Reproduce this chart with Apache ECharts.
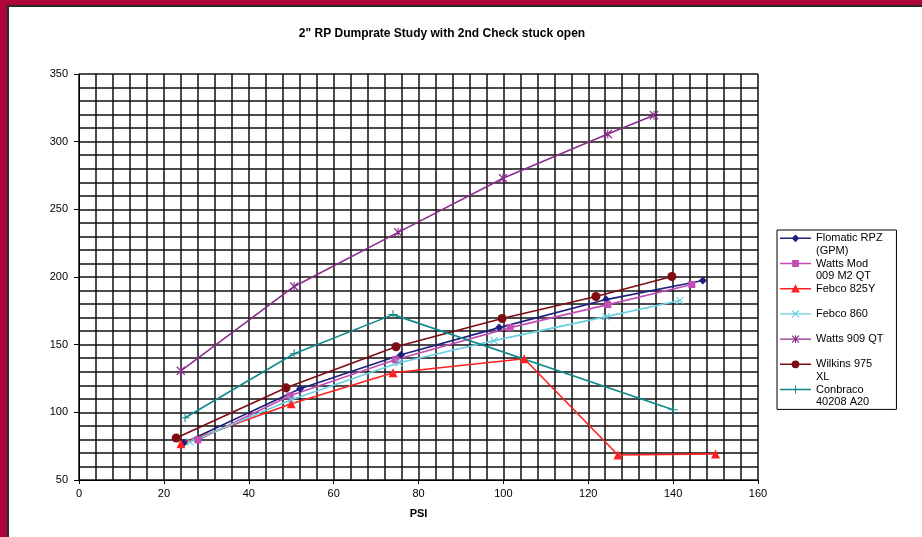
<!DOCTYPE html>
<html>
<head>
<meta charset="utf-8">
<script src="https://cdn.jsdelivr.net/npm/echarts@6/dist/echarts.min.js"></script>
<style>
  html, body { margin: 0; padding: 0; background: #fff; }
  #wrap { position: relative; width: 922px; height: 537px; overflow: hidden; }
  #chart { position: absolute; left: 0; top: 0; width: 922px; height: 537px; }
  #frame { position: absolute; left: 0; top: 0; width: 922px; height: 537px; box-sizing: border-box;
           border-left: 7px solid #b0073a; border-top: 5px solid #b0073a; pointer-events: none; }
  #frame div { position: absolute; left: 0; top: 0; right: 0; bottom: 0;
               border-left: 2px solid #2a2a2a; border-top: 2px solid #2a2a2a; }
</style>
</head>
<body>
<div id="wrap">
  <div id="chart"></div>
  <div id="frame"><div></div></div>
</div>
<script>
// series names and [psi, gpm] readings
const seriesNames = ['Flomatic RPZ (GPM)', 'Watts Mod 009 M2 QT', 'Febco 825Y', 'Febco 860',
                     'Watts 909 QT', 'Wilkins 975 XL', 'Conbraco 40208 A20'];
const flomatic = [[24.7, 77.4], [52.1, 117.4], [75.9, 142.6], [99, 162.6], [124.2, 183.3], [147, 197.4]];
const wattsMod = [[28, 79.6], [49.7, 112.2], [74.5, 138.9], [101.6, 162.6], [124.6, 179.6], [144.4, 194.4]];
const febco825 = [[24, 76.7], [50, 106.3], [74, 129.3], [104.9, 139.6], [127, 68.5], [150, 69.3]];
const febco860 = [[26.2, 78], [50, 109.3], [75.4, 136.7], [97.8, 153], [124.2, 170.7], [141.6, 182.6]];
const watts909 = [[24, 130.7], [50.7, 193], [75.2, 233], [99.9, 273], [124.6, 305.6], [135.5, 319.6]];
const wilkins = [[22.9, 81], [48.8, 118.1], [74.7, 148.5], [99.7, 169.3], [121.8, 185.6], [139.7, 200.4]];
const conbraco = [[25, 96], [50.7, 143.3], [74, 172.2], [140, 101.9]];

// legend wraps like the original (every entry takes two text lines)
const legendText = {
  'Flomatic RPZ (GPM)': 'Flomatic RPZ\n(GPM)',
  'Watts Mod 009 M2 QT': 'Watts Mod\n009 M2 QT',
  'Febco 825Y': 'Febco 825Y\n ',
  'Febco 860': 'Febco 860\n ',
  'Watts 909 QT': 'Watts 909 QT\n ',
  'Wilkins 975 XL': 'Wilkins 975\nXL',
  'Conbraco 40208 A20': 'Conbraco\n40208 A20'
};

const xMark = 'path://M0,1 L1,0 L5,4 L9,0 L10,1 L6,5 L10,9 L9,10 L5,6 L1,10 L0,9 L4,5 Z';
const starMark = 'path://M0,1 L1,0 L5,4 L9,0 L10,1 L6,5 L10,9 L9,10 L5,6 L1,10 L0,9 L4,5 Z M4.4,0 L5.6,0 L5.6,10 L4.4,10 Z';
const plusMark = 'path://M4.4,0 L5.6,0 L5.6,4.4 L10,4.4 L10,5.6 L5.6,5.6 L5.6,10 L4.4,10 L4.4,5.6 L0,5.6 L0,4.4 L4.4,4.4 Z';

// legend icons: line + marker on the first text row of a 32x26 box
const iconFrame = 'M31.99,0 L32,0 L32,0.01 Z M0,25.99 L0.01,26 L0,26 Z M0,5.8 L32,5.8 L32,7.2 L0,7.2 Z ';
const iconMarks = [
  'M16,2.5 L20,6.5 L16,10.5 L12,6.5 Z',
  'M12.5,3 L19.5,3 L19.5,10 L12.5,10 Z',
  'M16,2 L20.5,10.5 L11.5,10.5 Z',
  'M12,3.3 L12.8,2.5 L16,5.7 L19.2,2.5 L20,3.3 L16.8,6.5 L20,9.7 L19.2,10.5 L16,7.3 L12.8,10.5 L12,9.7 L15.2,6.5 Z',
  'M12,3.3 L12.8,2.5 L16,5.7 L19.2,2.5 L20,3.3 L16.8,6.5 L20,9.7 L19.2,10.5 L16,7.3 L12.8,10.5 L12,9.7 L15.2,6.5 Z M15.5,2.5 L16.5,2.5 L16.5,10.5 L15.5,10.5 Z',
  'M12,6.5 A4,4 0 1 1 20,6.5 A4,4 0 1 1 12,6.5 Z',
  'M15.5,2.5 L16.5,2.5 L16.5,10.5 L15.5,10.5 Z'
];

const allData = [flomatic, wattsMod, febco825, febco860, watts909, wilkins, conbraco];
const colors = ['#1f1f7e', '#c24db5', '#ff2020', '#68cfe0', '#8a2d8e', '#7e0c12', '#0f8a8a'];
const symbols = ['diamond', 'rect', 'triangle', xMark, starMark, 'circle', plusMark];
const sizes = [8, 7, 9, 8, 9, 9, 9];

const chart = echarts.init(document.getElementById('chart'));
chart.setOption({
  animation: false,
  backgroundColor: '#fff',
  textStyle: { fontFamily: 'Liberation Sans, Arial, sans-serif' },
  title: {
    text: '2" RP Dumprate Study with 2nd Check stuck open',
    left: 437, top: 23, textAlign: 'center',
    textStyle: { fontSize: 12, fontWeight: 'bold', color: '#000' }
  },
  grid: { left: 79, top: 74, width: 679, height: 406, show: true, borderColor: '#000', borderWidth: 0 },
  legend: {
    orient: 'vertical',
    left: 777, top: 230,
    padding: [2, 13, 1, 3],
    itemGap: 0,
    itemWidth: 31, itemHeight: 25.2,
    itemTextGap: 3,
    symbolKeepAspect: false,
    borderColor: '#000', borderWidth: 1,
    data: seriesNames.map((n, i) => ({ name: n, icon: 'path://' + iconFrame + iconMarks[i] })),
    itemStyle: { borderWidth: 0 },
    formatter: n => legendText[n],
    textStyle: { fontSize: 11, color: '#000', lineHeight: 12.6 }
  },
  xAxis: {
    type: 'value', min: 0, max: 160, interval: 20,
    name: 'PSI', nameLocation: 'middle', nameGap: 28,
    nameTextStyle: { fontSize: 11, fontWeight: 'bold', color: '#000' },
    axisLine: { lineStyle: { color: '#000', width: 1 } },
    axisTick: { show: true, length: 4, lineStyle: { color: '#000' } },
    axisLabel: { fontSize: 11, color: '#000', margin: 8 },
    splitLine: { show: true, lineStyle: { color: '#111', width: 1.5 } },
    minorTick: { show: false, splitNumber: 5 },
    minorSplitLine: { show: true, lineStyle: { color: '#111', width: 1.5 } }
  },
  yAxis: {
    type: 'value', min: 50, max: 350, interval: 50,
    axisLine: { show: true, lineStyle: { color: '#000', width: 1 } },
    axisTick: { show: true, length: 5, lineStyle: { color: '#000' } },
    axisLabel: { fontSize: 11, color: '#000', margin: 11 },
    splitLine: { show: true, lineStyle: { color: '#111', width: 1.5 } },
    minorTick: { show: false, splitNumber: 5 },
    minorSplitLine: { show: true, lineStyle: { color: '#111', width: 1.5 } }
  },
  series: seriesNames.map((name, i) => ({
    name: name,
    type: 'line',
    data: allData[i],
    symbol: symbols[i],
    symbolSize: sizes[i],
    showAllSymbol: true,
    color: colors[i],
    lineStyle: { width: 1.6, color: colors[i] },
    itemStyle: { color: colors[i] },
    z: 3
  }))
});
</script>
</body>
</html>
